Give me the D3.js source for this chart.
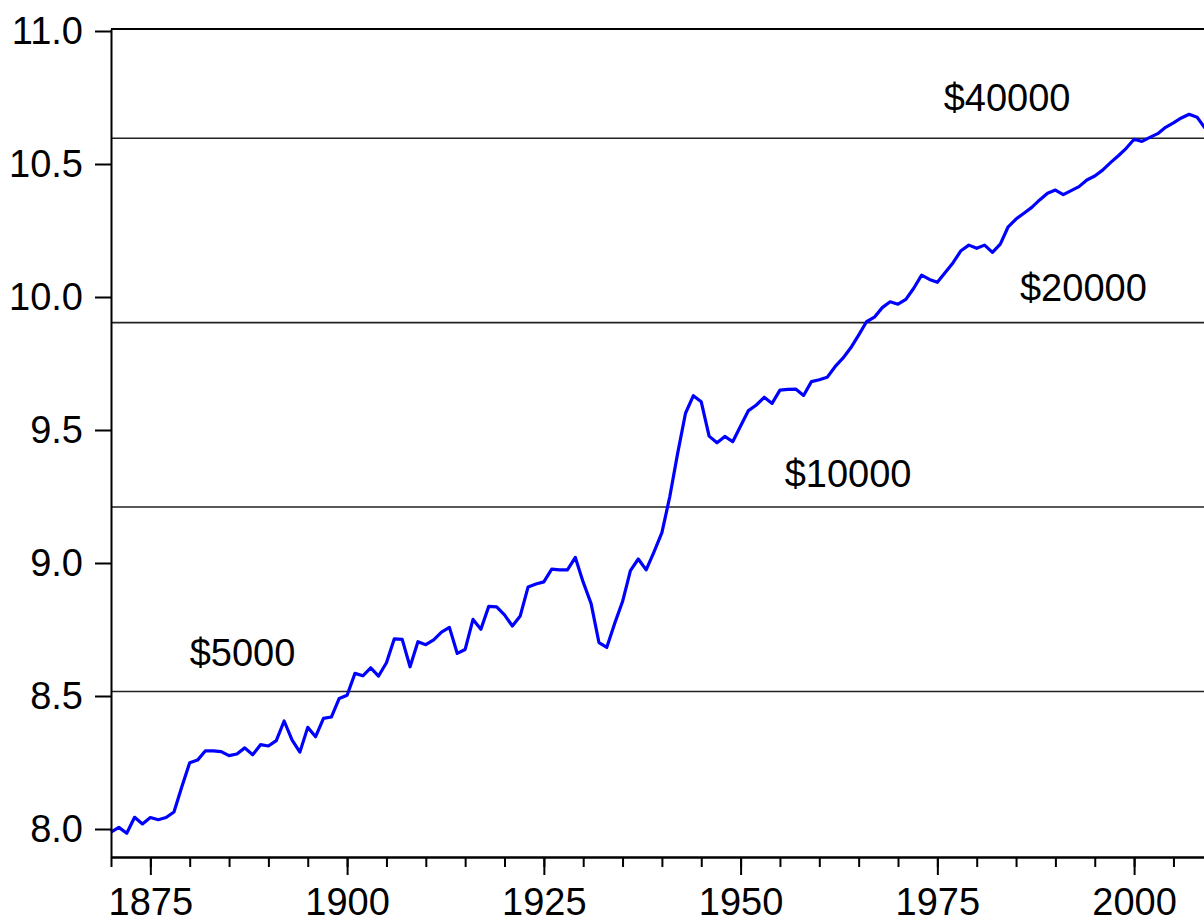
<!DOCTYPE html>
<html lang="en">
<head>
  <meta charset="UTF-8">
  <title>Log real GDP per capita</title>
  <script src="https://d3js.org/d3.v7.min.js"></script>
  <style>
    body { margin: 0; background: #fff; }
    svg { display: block; overflow: hidden; }
    .axis text { font-family: "Liberation Sans", Arial, sans-serif; font-size: 38px; fill: #000; }
    .axis path, .axis line { stroke: #000; stroke-width: 2px; }
    .level { stroke: #222; stroke-width: 1.6px; }
    .level-label { font-family: "Liberation Sans", Arial, sans-serif; font-size: 38px; fill: #000; }
  </style>
</head>
<body>
  <svg width="1204" height="922"></svg>
  <script>
    // years and log real GDP per capita
    const years = d3.range(1870, 2010);
    const lnGdp = [
      7.988, 8.006, 7.984, 8.044, 8.019, 8.043, 8.035, 8.043, 8.064, 8.159,
      8.249, 8.259, 8.294, 8.294, 8.291, 8.276, 8.282, 8.305, 8.279, 8.317,
      8.312, 8.332, 8.406, 8.335, 8.289, 8.382, 8.347, 8.416, 8.421, 8.491,
      8.503, 8.585, 8.576, 8.606, 8.575, 8.625, 8.715, 8.713, 8.610, 8.704,
      8.693, 8.711, 8.740, 8.758, 8.660, 8.675, 8.788, 8.751, 8.837, 8.835,
      8.805, 8.763, 8.801, 8.910, 8.921, 8.929, 8.977, 8.974, 8.974, 9.021,
      8.928, 8.848, 8.701, 8.683, 8.773, 8.855, 8.971, 9.015, 8.974, 9.042,
      9.114, 9.249, 9.412, 9.563, 9.629, 9.606, 9.477, 9.452, 9.476, 9.456,
      9.515, 9.573, 9.594, 9.623, 9.600, 9.650, 9.653, 9.654, 9.630, 9.682,
      9.689, 9.698, 9.738, 9.770, 9.809, 9.857, 9.907, 9.924, 9.960, 9.982,
      9.973, 9.991, 10.033, 10.082, 10.066, 10.055, 10.092, 10.129, 10.174, 10.195,
      10.183, 10.195, 10.168, 10.199, 10.264, 10.293, 10.315, 10.337, 10.365, 10.390,
      10.402, 10.385, 10.400, 10.415, 10.440, 10.455, 10.477, 10.505, 10.531, 10.559,
      10.593, 10.585, 10.600, 10.614, 10.638, 10.655, 10.673, 10.687, 10.676, 10.635
    ];

    // dollar reference levels and where their labels sit
    const levels = [5000, 10000, 20000, 40000];
    const levelLabels = ["$5000", "$10000", "$20000", "$40000"];
    const labelYears = [1880, 1955.6, 1985.5, 1975.8];
    const labelLift = [0.096, 0.077, 0.082, 0.102];

    const yTicks = [8.0, 8.5, 9.0, 9.5, 10.0, 10.5, 11.0];
    const xMajor = [1875, 1900, 1925, 1950, 1975, 2000];
    const xMinor = d3.range(1870, 2011, 5);

    const svg = d3.select("svg");

    const x = d3.scaleLinear()
      .domain([1870, 2010])
      .range([111, 111 + 140 * 7.87]);

    const y = d3.scaleLinear()
      .domain([8, 11])
      .range([829, 31]);

    const frameTop = 29, frameBottom = 857;

    // top frame line
    svg.append("line")
      .attr("x1", 111).attr("x2", 1300)
      .attr("y1", frameTop).attr("y2", frameTop)
      .attr("stroke", "#000").attr("stroke-width", 2);

    // reference levels
    svg.selectAll(".level")
      .data(levels)
      .enter().append("line")
      .attr("class", "level")
      .attr("x1", 111).attr("x2", 1300)
      .attr("y1", d => y(Math.log(d)))
      .attr("y2", d => y(Math.log(d)));

    svg.selectAll(".level-label")
      .data(levels)
      .enter().append("text")
      .attr("class", "level-label")
      .attr("x", (d, i) => x(labelYears[i]))
      .attr("y", (d, i) => y(Math.log(d) + labelLift[i]))
      .text((d, i) => levelLabels[i]);

    // the series
    const line = d3.line()
      .x((d, i) => x(years[i]))
      .y(d => y(d));

    svg.append("path")
      .datum(lnGdp)
      .attr("fill", "none")
      .attr("stroke", "#0000ff")
      .attr("stroke-width", 3.2)
      .attr("stroke-linejoin", "round")
      .attr("d", line);

    // left axis, its line runs the full frame height
    const yAxisScale = y.copy()
      .domain([y.invert(frameBottom), y.invert(frameTop)])
      .range([frameBottom, frameTop]);

    svg.append("g")
      .attr("class", "axis")
      .attr("transform", "translate(111,0)")
      .call(d3.axisLeft(yAxisScale)
        .tickValues(yTicks)
        .tickFormat(d3.format(".1f"))
        .tickSize(16)
        .tickSizeOuter(0)
        .tickPadding(12));

    // bottom axis: minor ticks every 5 years, labels every 25
    svg.append("g")
      .attr("class", "axis")
      .attr("transform", `translate(0,${frameBottom})`)
      .call(d3.axisBottom(x)
        .tickValues(xMinor)
        .tickFormat("")
        .tickSize(10)
        .tickSizeOuter(0));

    svg.append("g")
      .attr("class", "axis")
      .attr("transform", `translate(0,${frameBottom})`)
      .call(d3.axisBottom(x)
        .tickValues(xMajor)
        .tickFormat(d3.format("d"))
        .tickSize(18)
        .tickSizeOuter(0)
        .tickPadding(13));
  </script>
</body>
</html>
